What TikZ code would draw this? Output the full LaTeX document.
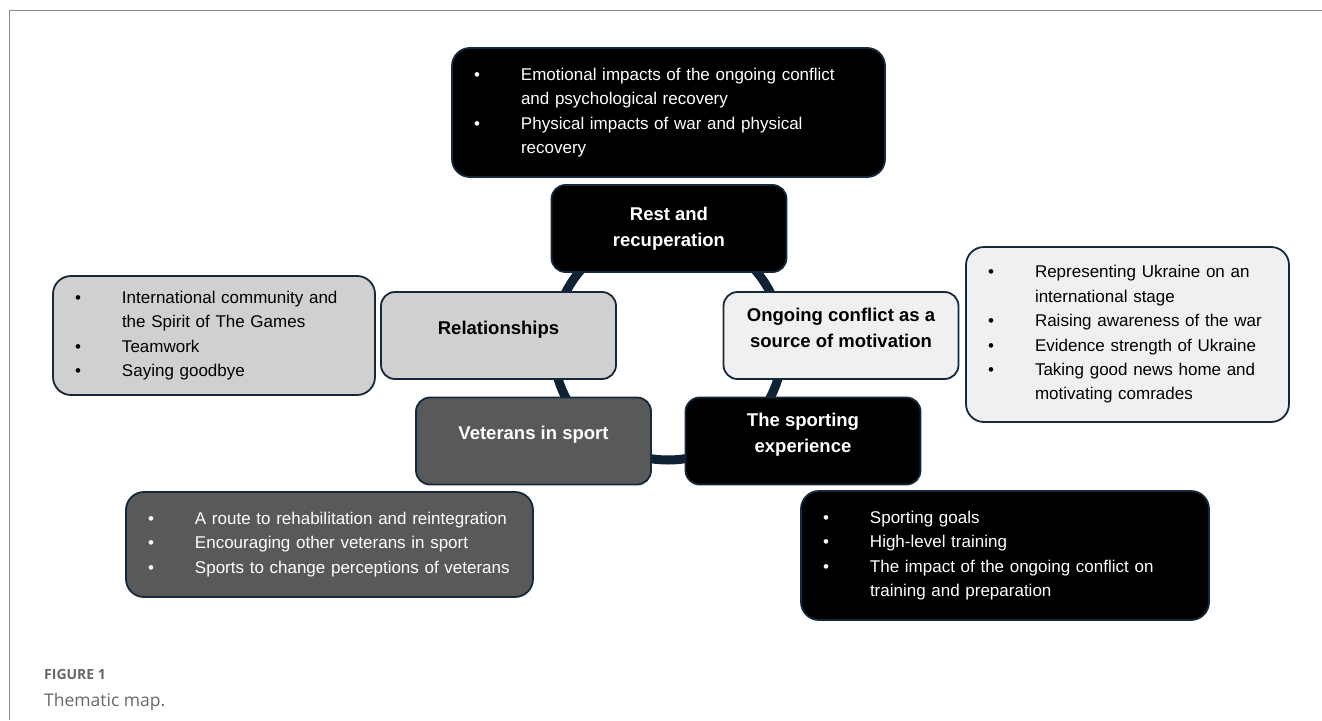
\documentclass[tikz,border=0pt]{standalone}
\usepackage{fontspec}
\setmainfont{Liberation Sans}
\newfontfamily\captionfont{Open Sans}
\usetikzlibrary{positioning}

\definecolor{edgeblue}{HTML}{16293A}
\definecolor{ringblue}{HTML}{0E2233}
\definecolor{themegrey}{HTML}{D0D0D0}
\definecolor{themepale}{HTML}{F0F0F0}
\definecolor{themedark}{HTML}{595959}
\definecolor{framegrey}{HTML}{8C8C8C}
\definecolor{capgrey}{HTML}{676767}

\newcommand{\themefont}{\fontsize{18.5}{26}\selectfont\bfseries}
\newcommand{\bulletfont}{\fontsize{17}{24.4}\selectfont}
\newcommand{\listbullet}{\makebox[47pt][l]{\textbullet}}
\newcommand{\listindent}{\hspace*{47pt}}

\begin{document}
\begin{tikzpicture}[x=1pt, y=-1pt,
    themebox/.style={rectangle, draw=edgeblue, line width=1.8pt, rounded corners=14pt,
        minimum width=235pt, minimum height=87pt, align=center, font=\themefont},
    lift/.style={text depth=16pt},
    listbox/.style={rectangle, draw=edgeblue, line width=1.8pt, rounded corners=18pt,
        inner xsep=22pt, inner ysep=0pt, align=left, font=\bulletfont},
    ring/.style={circle, draw=ringblue, line width=9pt, minimum size=230pt, inner sep=0pt}]
    \useasboundingbox (0,0) rectangle (1322,720);
    \draw[framegrey, line width=1.5pt] (9.5,720) -- (9.5,10.5) -- (1322,10.5);

    \node[ring] (cycle) at (668,345) {};

    % themes on the ring
    \node[themebox, fill=black, text=white] (rest) at (669,228.5) {Rest and\\recuperation};
    \node[themebox, lift, fill=themegrey] (relations) at (498.5,335.5) {Relationships};
    \node[themebox, lift, fill=themepale] (motivation) at (841,335.5) {Ongoing conflict as a\\source of motivation};
    \node[themebox, lift, fill=themedark, text=white] (veterans) at (533.5,441) {Veterans in sport};
    \node[themebox, lift, fill=black, text=white] (sporting) at (803,441) {The sporting\\experience};

    % subthemes
    \node[listbox, fill=black, text=white, text width=389pt, minimum height=129pt] (restlist) at (668.5,112.5)
        {\listbullet Emotional impacts of the ongoing conflict\\
         \listindent and psychological recovery\\
         \listbullet Physical impacts of war and physical\\
         \listindent recovery};
    \node[listbox, fill=themepale, text width=279pt, minimum height=175pt] (motivationlist) at (1127.5,334.5)
        {\listbullet Representing Ukraine on an\\
         \listindent international stage\\
         \listbullet Raising awareness of the war\\
         \listbullet Evidence strength of Ukraine\\
         \listbullet Taking good news home and\\
         \listindent motivating comrades};
    \node[listbox, fill=themegrey, text width=278pt, minimum height=119pt] (relationslist) at (214,335.5)
        {\listbullet International community and\\
         \listindent the Spirit of The Games\\
         \listbullet Teamwork\\
         \listbullet Saying goodbye};
    \node[listbox, fill=themedark, text=white, text width=363pt, minimum height=105pt] (veteranslist) at (329.5,544.5)
        {\listbullet A route to rehabilitation and reintegration\\
         \listbullet Encouraging other veterans in sport\\
         \listbullet Sports to change perceptions of veterans};
    \node[listbox, fill=black, text=white, text width=364pt, minimum height=129pt] (sportinglist) at (1005,555.5)
        {\listbullet Sporting goals\\
         \listbullet High-level training\\
         \listbullet The impact of the ongoing conflict on\\
         \listindent training and preparation};

    % caption
    \node[anchor=base west, inner sep=0pt, text=capgrey, font=\captionfont\fontsize{14}{16}\selectfont\bfseries] (figlabel) at (44,679) {FIGURE 1};
    \node[anchor=base west, inner sep=0pt, text=capgrey, font=\captionfont\fontsize{17.5}{20}\selectfont] (figtitle) at (44,706) {Thematic map.};
\end{tikzpicture}
\end{document}
